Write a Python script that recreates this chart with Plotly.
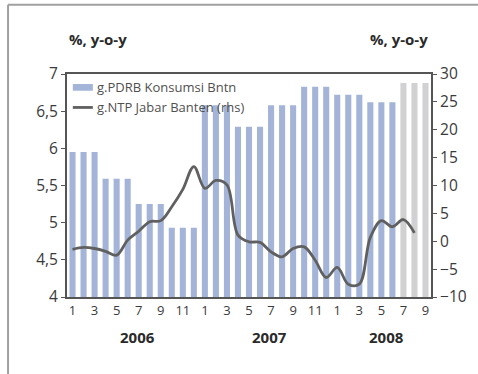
import plotly.graph_objects as go

months = [1,2,3,4,5,6,7,8,9,10,11,12]*2 + [1,2,3,4,5,6,7,8,9]
pdrb = [5.95,5.95,5.95, 5.59,5.59,5.59, 5.25,5.25,5.25, 4.93,4.93,4.93,
        6.58,6.58,6.58, 6.29,6.29,6.29, 6.58,6.58,6.58, 6.83,6.83,6.83,
        6.72,6.72,6.72, 6.62,6.62,6.62, 6.88,6.88,6.88]
ntp = [-1.45,-1.1,-1.3,-1.8,-2.5,0.2,1.8,3.5,3.7,6.2,9.3,13.4,
       9.5,10.9,10.1,1.1,-0.1,-0.2,-1.9,-2.8,-1.3,-1.0,-3.4,-6.5,
       -4.7,-7.7,-7.7,0.7,3.7,2.6,3.9,1.5]
years = ["2006", "2007", "2008"]
year_pos = [5.9, 17.9, 28.5]

idx = list(range(len(months)))
bar_colors = ["#a3b4d8"]*30 + ["#d1d1d3"]*3

fig = go.Figure()
fig.add_trace(go.Bar(x=idx, y=pdrb, marker=dict(color=bar_colors, line=dict(width=0)),
                     name="g.PDRB Konsumsi Bntn", yaxis="y"))
fig.add_trace(go.Scatter(x=idx[:len(ntp)], y=ntp, mode="lines", yaxis="y2",
                         line=dict(color="#606060", width=2.8, shape="spline", smoothing=1.0),
                         name="g.NTP Jabar Banten (rhs)"))

tickfont = dict(family="Open Sans", size=15.5, color="#3a3a3a")
fig.update_layout(
    width=478, height=374,
    margin=dict(l=67, r=47, t=74, b=77),
    paper_bgcolor="white", plot_bgcolor="white",
    showlegend=False,
    bargap=0.45,
    xaxis=dict(range=[-0.5, 32.5], tickvals=idx[::2], ticktext=[str(m) for m in months[::2]],
               showgrid=False, zeroline=False, showline=True, linecolor="#555555", linewidth=2,
               mirror=True, ticks="", tickfont=dict(family="Open Sans", size=13, color="#3a3a3a")),
    yaxis=dict(range=[4, 7], tickvals=[4,4.5,5,5.5,6,6.5,7],
               ticktext=["4","4,5","5","5,5","6","6,5","7"],
               showgrid=False, zeroline=False, showline=True, linecolor="#555555", linewidth=2,
               ticks="outside", ticklen=4, tickcolor="#555555", tickfont=tickfont),
    yaxis2=dict(range=[-10, 30], tickvals=list(range(-10, 31, 5)), overlaying="y", side="right",
                showgrid=False, zeroline=False, showline=True, linecolor="#555555", linewidth=2,
                ticks="outside", ticklen=4, tickcolor="#555555", tickfont=tickfont),
)

# outer frame
fig.add_shape(type="line", xref="paper", yref="paper", x0=-0.162, x1=1.14, y0=1.31, y1=1.31,
              line=dict(color="#a0a0a0", width=2))
fig.add_shape(type="line", xref="paper", yref="paper", x0=-0.162, x1=-0.162, y0=1.31, y1=-0.36,
              line=dict(color="#a0a0a0", width=2))

# axis titles
fig.add_annotation(xref="paper", yref="paper", x=0.0, y=1.155, xanchor="left", yanchor="middle",
                   text="<b>%, y-o-y</b>", showarrow=False,
                   font=dict(family="Open Sans", size=15, color="#2a2a2a"))
fig.add_annotation(xref="paper", yref="paper", x=0.997, y=1.155, xanchor="right", yanchor="middle",
                   text="<b>%, y-o-y</b>", showarrow=False,
                   font=dict(family="Open Sans", size=15, color="#2a2a2a"))

# year labels
for yr, pos in zip(years, year_pos):
    fig.add_annotation(x=pos, xref="x", yref="paper", y=-0.18, yanchor="middle", text="<b>" + yr + "</b>",
                       showarrow=False, font=dict(family="Open Sans", size=15, color="#2a2a2a"))

# legend (manual)
fig.add_shape(type="rect", xref="paper", yref="paper", x0=0.016, x1=0.071, y0=0.925, y1=0.955,
              fillcolor="#a3b4d8", line=dict(width=0))
fig.add_shape(type="line", xref="paper", yref="paper", x0=0.016, x1=0.071, y0=0.85, y1=0.85,
              line=dict(color="#606060", width=2.8))
fig.add_annotation(xref="paper", yref="paper", x=0.078, y=0.94, xanchor="left", yanchor="middle",
                   text="g.PDRB Konsumsi Bntn", showarrow=False,
                   font=dict(family="Open Sans", size=13, color="#505050"))
fig.add_annotation(xref="paper", yref="paper", x=0.078, y=0.85, xanchor="left", yanchor="middle",
                   text="g.NTP Jabar Banten (rhs)", showarrow=False,
                   font=dict(family="Open Sans", size=13, color="#505050"))

fig.write_html("out.html")
